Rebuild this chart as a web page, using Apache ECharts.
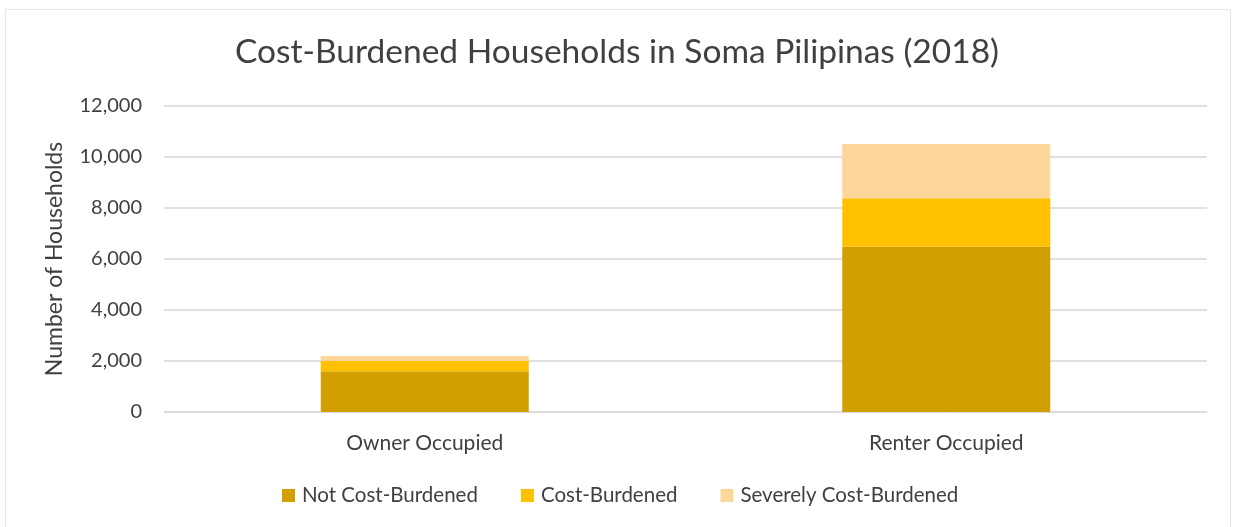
<!DOCTYPE html>
<html>
<head>
<meta charset="utf-8">
<script src="https://cdn.jsdelivr.net/npm/echarts@6/dist/echarts.min.js"></script>
<style>
  html, body { margin: 0; padding: 0; background: #fff; }
  #frame { position: absolute; left: 5px; top: 9px; width: 1226px; height: 530px; border: 1px solid #e6e6e6; box-sizing: border-box; }
  #chart { position: absolute; left: 0; top: 0; width: 1234px; height: 527px; }
</style>
</head>
<body>
<div id="frame"></div>
<div id="chart"></div>
<script>
// categories + series values
var categories = ['Owner Occupied', 'Renter Occupied']
var notBurdened = [1600, 6480]
var costBurdened = [400, 1900]
var severelyBurdened = [200, 2130]
var yTicks = [0, 2000, 4000, 6000, 8000, 10000, 12000]

var chart = echarts.init(document.getElementById('chart'))

function barSeries(name, data, color) {
  return {
    name: name,
    type: 'bar',
    stack: 'total',
    barWidth: 208,
    data: data,
    itemStyle: { color: color },
  }
}

chart.setOption({
  animation: false,
  textStyle: { fontFamily: 'Lato' },
  title: {
    text: 'Cost-Burdened Households in Soma Pilipinas (2018)',
    left: 'center',
    top: 30,
    textStyle: { fontFamily: 'Lato', fontSize: 33.5, fontWeight: 'normal', color: '#404040' },
  },
  legend: {
    bottom: 16,
    left: 277,
    itemWidth: 13,
    itemHeight: 13,
    itemGap: 43,
    icon: 'rect',
    textStyle: { fontSize: 20.5, color: '#404040', padding: [0, 0, 0, 2] },
    data: ['Not Cost-Burdened', 'Cost-Burdened', 'Severely Cost-Burdened'],
  },
  grid: { left: 164, right: 27, top: 106, bottom: 115 },
  xAxis: {
    type: 'category',
    data: categories,
    axisLine: { lineStyle: { color: '#d9d9d9' } },
    axisTick: { show: false },
    axisLabel: { fontSize: 21, color: '#404040', margin: 21 },
  },
  yAxis: {
    type: 'value',
    min: yTicks[0],
    max: yTicks[yTicks.length - 1],
    interval: 2000,
    name: 'Number of Households',
    nameLocation: 'middle',
    nameGap: 98,
    nameTextStyle: { fontSize: 23, color: '#404040' },
    axisLine: { show: false },
    axisTick: { show: false },
    axisLabel: {
      fontSize: 20,
      color: '#404040',
      margin: 22,
      formatter: function (v) { return v.toLocaleString('en-US') },
    },
    splitLine: { lineStyle: { color: '#e0e0e0', width: 2 } },
  },
  series: [
    barSeries('Not Cost-Burdened', notBurdened, '#D19F00'),
    barSeries('Cost-Burdened', costBurdened, '#FFC000'),
    barSeries('Severely Cost-Burdened', severelyBurdened, '#FDD69A'),
  ],
})
</script>
</body>
</html>
